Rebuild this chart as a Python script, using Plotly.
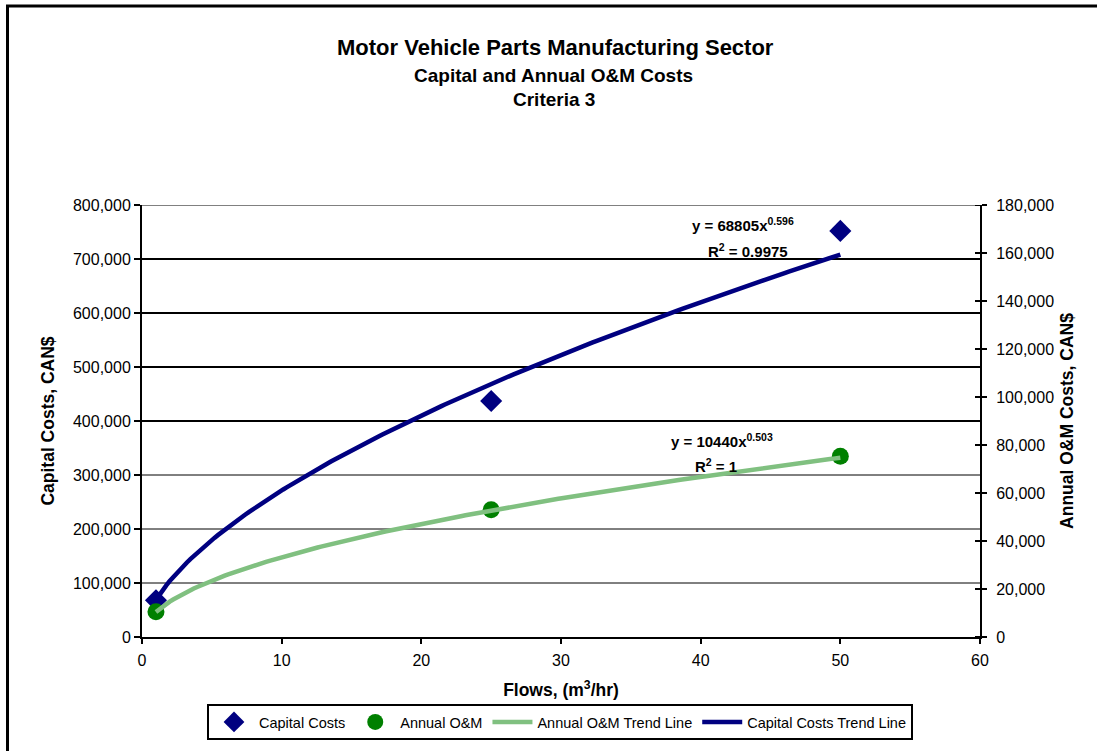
import numpy as np
import plotly.graph_objects as go

# ---- data ----
flows = [1, 25, 50]
capital_costs = [68000, 437000, 752000]
annual_om = [10500, 53000, 75300]
# Excel power trend-line coefficients shown on the chart (y = a * x^b)
cap_trend_a, cap_trend_b = 68805, 0.596
om_trend_a, om_trend_b = 10440, 0.503
left_ticks = [0, 100000, 200000, 300000, 400000, 500000, 600000, 700000, 800000]
grid_widths = [0, 1, 1, 1, 2, 2, 2, 2, 2]
right_ticks = [0, 20000, 40000, 60000, 80000, 100000, 120000, 140000, 160000, 180000]
x_ticks = [0, 10, 20, 30, 40, 50, 60]

NAVY = "#000080"
GREEN = "#008000"
LGREEN = "#80C080"
FONT = "Liberation Sans, Arial, sans-serif"

xt = np.linspace(min(flows), max(flows), 200)
cap_tr = cap_trend_a * xt ** cap_trend_b
om_tr = om_trend_a * xt ** om_trend_b

fig = go.Figure()
fig.add_trace(go.Scatter(x=flows, y=capital_costs, mode="markers", name="Capital Costs",
                         marker=dict(symbol="diamond", size=17, color=NAVY), yaxis="y"))
fig.add_trace(go.Scatter(x=flows, y=annual_om, mode="markers", name="Annual O&M",
                         marker=dict(symbol="circle", size=17, color=GREEN), yaxis="y2"))
fig.add_trace(go.Scatter(x=xt, y=om_tr, mode="lines", name="Annual O&M Trend Line",
                         line=dict(color=LGREEN, width=4.5), yaxis="y2"))
fig.add_trace(go.Scatter(x=xt, y=cap_tr, mode="lines", name="Capital Costs Trend Line",
                         line=dict(color=NAVY, width=4.5), yaxis="y"))

L, R, T, B = 142, 117, 205, 113
W, H = 1097, 751
pw, ph = W - L - R, H - T - B

shapes = []
for v, w in zip(left_ticks, grid_widths):
    if 0 < v < 800000:
        shapes.append(dict(type="line", xref="paper", yref="y", x0=0, x1=1, y0=v, y1=v,
                           line=dict(color="black", width=w), layer="below"))
shapes.append(dict(type="line", xref="paper", yref="y", x0=0, x1=1, y0=800000, y1=800000,
                   line=dict(color="#808080", width=2), layer="below"))
# inner half of the crossing ticks on the right axis
for v in right_ticks:
    shapes.append(dict(type="line", xref="paper", yref="y2", x0=1 - 5 / pw, x1=1, y0=v, y1=v,
                       line=dict(color="black", width=2)))
# outer chart frame
shapes.append(dict(type="rect", xref="paper", yref="paper",
                   x0=(7.5 - L) / pw, x1=(W + 10 - L) / pw,
                   y0=(T + ph - (H + 10)) / ph, y1=(T + ph - 5.5) / ph,
                   line=dict(color="black", width=3), fillcolor="rgba(0,0,0,0)"))


def py(p):
    return (T + ph - p) / ph


def px(p):
    return (p - L) / pw


annotations = [
    dict(text="<b>Motor Vehicle Parts Manufacturing Sector</b>", x=px(555), y=py(47),
         xref="paper", yref="paper", xanchor="center", yanchor="middle", showarrow=False,
         font=dict(size=22, family=FONT, color="black")),
    dict(text="<b>Capital and Annual O&M Costs</b>", x=px(553), y=py(75),
         xref="paper", yref="paper", xanchor="center", yanchor="middle", showarrow=False,
         font=dict(size=19, family=FONT, color="black")),
    dict(text="<b>Criteria 3</b>", x=px(554), y=py(99),
         xref="paper", yref="paper", xanchor="center", yanchor="middle", showarrow=False,
         font=dict(size=19, family=FONT, color="black")),
    dict(text="<b>y = 68805x<sup>0.596</sup></b>", x=43.0, y=763000, xref="x", yref="y",
         showarrow=False, font=dict(size=15, family=FONT, color="black")),
    dict(text="<b>R<sup>2</sup> = 0.9975</b>", x=43.4, y=716000, xref="x", yref="y",
         showarrow=False, font=dict(size=15, family=FONT, color="black")),
    dict(text="<b>y = 10440x<sup>0.503</sup></b>", x=41.5, y=363000, xref="x", yref="y",
         showarrow=False, font=dict(size=15, family=FONT, color="black")),
    dict(text="<b>R<sup>2</sup> = 1</b>", x=41.1, y=318000, xref="x", yref="y",
         showarrow=False, font=dict(size=15, family=FONT, color="black")),
]

fig.update_layout(
    width=W, height=H,
    margin=dict(l=L, r=R, t=T, b=B),
    paper_bgcolor="white", plot_bgcolor="white",
    font=dict(family=FONT, size=16, color="black"),
    showlegend=True,
    legend=dict(orientation="h", x=px(560), xanchor="center", y=py(722), yanchor="middle",
                bordercolor="black", borderwidth=2, font=dict(size=14.5, family=FONT),
                itemwidth=40, tracegroupgap=0),
    xaxis=dict(range=[0, 60], tickvals=x_ticks, showgrid=False, zeroline=False,
               showline=True, linecolor="black", linewidth=2, ticks="outside",
               ticklen=5, tickwidth=2, tickcolor="black", ticklabelstandoff=3,
               title=dict(text="<b>Flows, (m<sup>3</sup>/hr)</b>", font=dict(size=17.5), standoff=16)),
    yaxis=dict(range=[0, 800000], tickvals=left_ticks, tickformat=",", showgrid=False,
               zeroline=False, showline=True, linecolor="black", linewidth=2,
               ticks="outside", ticklen=6, tickwidth=2, tickcolor="black",
               title=dict(text="<b>Capital Costs, CAN$</b>", font=dict(size=17.5), standoff=14)),
    yaxis2=dict(range=[0, 180000], tickvals=right_ticks, tickformat=",", overlaying="y",
                side="right", showgrid=False, zeroline=False, showline=True,
                linecolor="black", linewidth=2, ticks="outside", ticklen=5, tickwidth=2,
                tickcolor="black", ticklabelstandoff=6,
                title=dict(text="<b>Annual O&M Costs, CAN$</b>", font=dict(size=17.5), standoff=8)),
    shapes=shapes,
    annotations=annotations,
)

fig.write_html("out.html")
